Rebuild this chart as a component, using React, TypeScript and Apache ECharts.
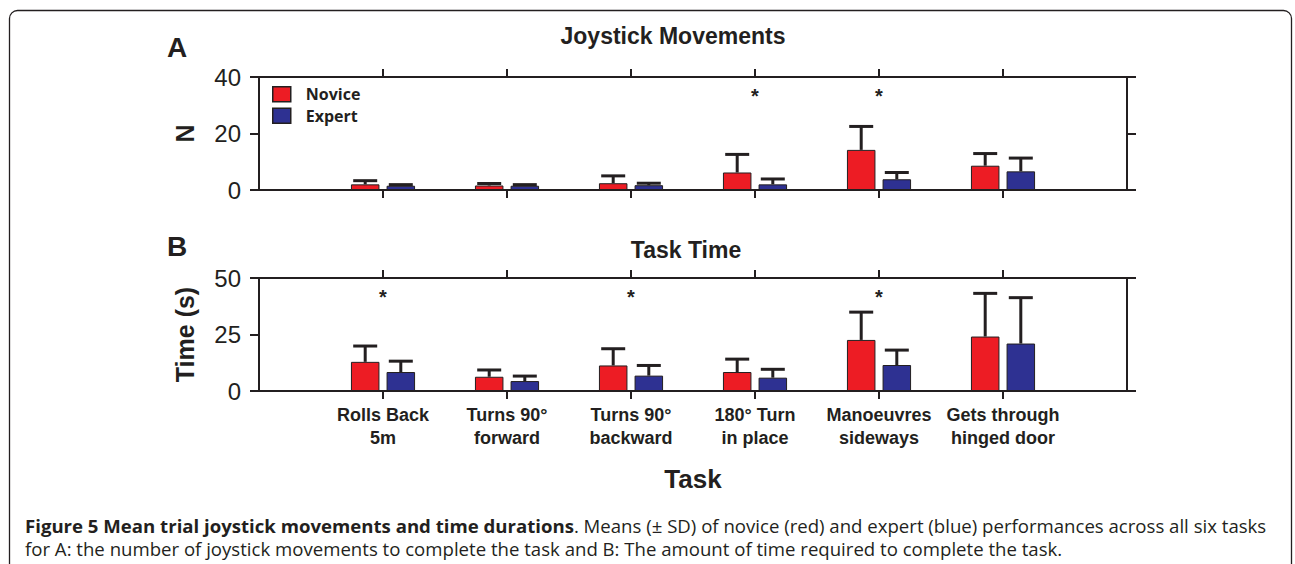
import React, { useEffect, useRef } from "react";
import * as echarts from "echarts";

const tasks = [
  "Rolls Back\n5m",
  "Turns 90°\nforward",
  "Turns 90°\nbackward",
  "180° Turn\nin place",
  "Manoeuvres\nsideways",
  "Gets through\nhinged door",
];
const noviceMoves = [2.0, 1.6, 2.4, 6.2, 14.2, 8.6];
const noviceMovesSD = [1.3, 0.7, 2.6, 6.4, 8.3, 4.3];
const expertMoves = [1.5, 1.5, 1.7, 2.0, 3.8, 6.6];
const expertMovesSD = [0.4, 0.4, 0.7, 1.9, 2.4, 4.7];
const noviceTime = [12.9, 6.3, 11.3, 8.4, 22.6, 24.1];
const noviceTimeSD = [7.0, 3.0, 7.4, 5.7, 12.3, 19.1];
const expertTime = [8.4, 4.4, 6.8, 5.9, 11.5, 21.0];
const expertTimeSD = [4.8, 2.2, 4.5, 3.7, 6.6, 20.3];
const sigMoves = [false, false, false, true, true, false];
const sigTime = [true, false, true, false, true, false];
const movesMax = 40;
const movesStep = 20;
const timeMax = 50;
const timeStep = 25;

const captionBold = "Figure 5 Mean trial joystick movements and time durations";
const captionRest1 = ". Means (± SD) of novice (red) and expert (blue) performances across all six tasks";
const captionLine2 =
  "for A: the number of joystick movements to complete the task and B: The amount of time required to complete the task.";

const INK = "#231f20";
const RED = "#ED1C24";
const BLUE = "#2E3192";
const FONT = "Liberation Sans";

const cats = ["", ...tasks, ""];
const taskIdx = tasks.map((_, i) => i + 1);
const BAR_W = 28.5;
const HALF_OFF = 17.8;

function errSeries(name: string, xi: number, yi: number, means: number[], sds: number[], side: number) {
  return {
    type: "custom",
    name: name + " SD",
    xAxisIndex: xi,
    yAxisIndex: yi,
    z: 5,
    data: means.map((m, i) => [i + 1, m, sds[i], side]),
    renderItem: (params: any, api: any) => {
      const x = api.value(0);
      const m = api.value(1);
      const sd = api.value(2);
      const s = api.value(3);
      const p0 = api.coord([x, m]);
      const p1 = api.coord([x, m + sd]);
      const cx = p0[0] + s * HALF_OFF;
      const style = { stroke: INK, lineWidth: 3 };
      return {
        type: "group",
        children: [
          { type: "line", shape: { x1: cx, y1: p0[1], x2: cx, y2: p1[1] }, style },
          { type: "line", shape: { x1: cx - 12, y1: p1[1], x2: cx + 12, y2: p1[1] }, style },
        ],
      };
    },
  };
}

function starSeries(xi: number, yi: number, sig: boolean[], top: number) {
  return {
    type: "custom",
    xAxisIndex: xi,
    yAxisIndex: yi,
    z: 6,
    data: sig.map((s, i) => (s ? [i + 1, top] : null)).filter((d) => d),
    renderItem: (params: any, api: any) => {
      const p = api.coord([api.value(0), api.value(1)]);
      return {
        type: "text",
        x: p[0],
        y: p[1] + 19,
        style: {
          text: "*",
          fill: INK,
          font: `bold 20px "${FONT}"`,
          align: "center",
          verticalAlign: "middle",
        },
      };
    },
  };
}

function xAxis(grid: number, pos: "top" | "bottom", labels: boolean) {
  return {
    type: "category",
    gridIndex: grid,
    position: pos,
    data: cats,
    boundaryGap: false,
    axisLine: { show: true, onZero: false, lineStyle: { color: INK, width: 2 } },
    axisTick: {
      show: true,
      length: 8,
      interval: 0,
      customValues: taskIdx,
      lineStyle: { color: INK, width: 2 },
    },
    axisLabel: labels
      ? {
          show: true,
          interval: 0,
          margin: 12,
          color: INK,
          fontFamily: FONT,
          fontWeight: "bold",
          fontSize: 18,
          lineHeight: 23,
        }
      : { show: false },
    splitLine: { show: false },
  };
}

function yAxis(grid: number, pos: "left" | "right", max: number, step: number, name: string) {
  const isLeft = pos === "left";
  return {
    type: "value",
    gridIndex: grid,
    position: pos,
    min: 0,
    max,
    interval: step,
    name: isLeft ? name : "",
    nameLocation: "middle",
    nameGap: 62,
    nameRotate: 90,
    nameTextStyle: { color: INK, fontFamily: FONT, fontWeight: "bold", fontSize: 25 },
    axisLine: { show: true, onZero: false, lineStyle: { color: INK, width: 2 } },
    axisTick: { show: true, length: 9, lineStyle: { color: INK, width: 2 } },
    axisLabel: isLeft
      ? { show: true, margin: 18, color: INK, fontFamily: FONT, fontSize: 24 }
      : { show: false },
    splitLine: { show: false },
  };
}

function barSeries(name: string, xi: number, yi: number, vals: number[], color: string) {
  return {
    type: "bar",
    name,
    xAxisIndex: xi,
    yAxisIndex: yi,
    barWidth: BAR_W,
    barGap: "25%",
    z: 3,
    data: vals.map((v, i) => [i + 1, v]),
    itemStyle: { color, borderColor: INK, borderWidth: 1 },
  };
}

export default function App() {
  const ref = useRef<HTMLDivElement>(null);
  useEffect(() => {
    if (!ref.current) return;
    const chart = echarts.init(ref.current, null, { renderer: "svg" });
    const capStyle = { fontFamily: "Open Sans", fontSize: 18.6, lineHeight: 22, fill: INK };
    const option: any = {
      animation: false,
      backgroundColor: "#ffffff",
      title: [
        { text: "A", left: 167, top: 33, padding: 0, textStyle: { color: INK, fontFamily: FONT, fontWeight: "bold", fontSize: 28 } },
        { text: "Joystick Movements", left: 673, top: 24, textAlign: "center", padding: 0, textStyle: { color: INK, fontFamily: FONT, fontWeight: "bold", fontSize: 23 } },
        { text: "B", left: 167, top: 232, padding: 0, textStyle: { color: INK, fontFamily: FONT, fontWeight: "bold", fontSize: 28 } },
        { text: "Task Time", left: 686, top: 238, textAlign: "center", padding: 0, textStyle: { color: INK, fontFamily: FONT, fontWeight: "bold", fontSize: 23 } },
      ],
      legend: {
        orient: "vertical",
        left: 272,
        top: 86,
        padding: 0,
        itemWidth: 18,
        itemHeight: 15,
        itemGap: 5,
        icon: "rect",
        data: ["Novice", "Expert"],
        itemStyle: { borderColor: INK, borderWidth: 1.5 },
        textStyle: { color: INK, fontFamily: "Open Sans", fontWeight: "bold", fontSize: 16, padding: [0, 0, 0, 10] },
      },
      grid: [
        { left: 259, top: 77, width: 868, height: 113 },
        { left: 259, top: 278, width: 868, height: 113 },
      ],
      xAxis: [
        xAxis(0, "bottom", false),
        xAxis(0, "top", false),
        {
          ...xAxis(1, "bottom", true),
          name: "Task",
          nameLocation: "middle",
          nameGap: 75,
          nameTextStyle: { color: INK, fontFamily: FONT, fontWeight: "bold", fontSize: 26 },
        },
        xAxis(1, "top", false),
      ],
      yAxis: [
        yAxis(0, "left", movesMax, movesStep, "N"),
        yAxis(0, "right", movesMax, movesStep, ""),
        yAxis(1, "left", timeMax, timeStep, "Time (s)"),
        yAxis(1, "right", timeMax, timeMax, ""),
      ],
      series: [
        barSeries("Novice", 0, 0, noviceMoves, RED),
        barSeries("Expert", 0, 0, expertMoves, BLUE),
        barSeries("Novice", 2, 2, noviceTime, RED),
        barSeries("Expert", 2, 2, expertTime, BLUE),
        errSeries("Novice", 0, 0, noviceMoves, noviceMovesSD, -1),
        errSeries("Expert", 0, 0, expertMoves, expertMovesSD, 1),
        errSeries("Novice", 2, 2, noviceTime, noviceTimeSD, -1),
        errSeries("Expert", 2, 2, expertTime, expertTimeSD, 1),
        starSeries(0, 0, sigMoves, movesMax),
        starSeries(2, 2, sigTime, timeMax),
      ],
      graphic: [
        {
          type: "rect",
          z: -1,
          shape: { x: 9.5, y: 10.5, width: 1282, height: 700, r: 8 },
          style: { fill: "none", stroke: INK, lineWidth: 1.3 },
        },
        {
          type: "text",
          left: 25,
          top: 514,
          style: {
            ...capStyle,
            text: `{b|${captionBold}}${captionRest1}`,
            rich: { b: { ...capStyle, fontWeight: "bold" } },
          },
        },
        {
          type: "text",
          left: 25,
          top: 537,
          style: { ...capStyle, text: captionLine2 },
        },
      ],
    };
    chart.setOption(option);
    return () => chart.dispose();
  }, []);
  return (
    <div
      ref={ref}
      style={{ position: "fixed", left: 0, top: 0, width: 1295, height: 564, background: "#fff" }}
    />
  );
}
